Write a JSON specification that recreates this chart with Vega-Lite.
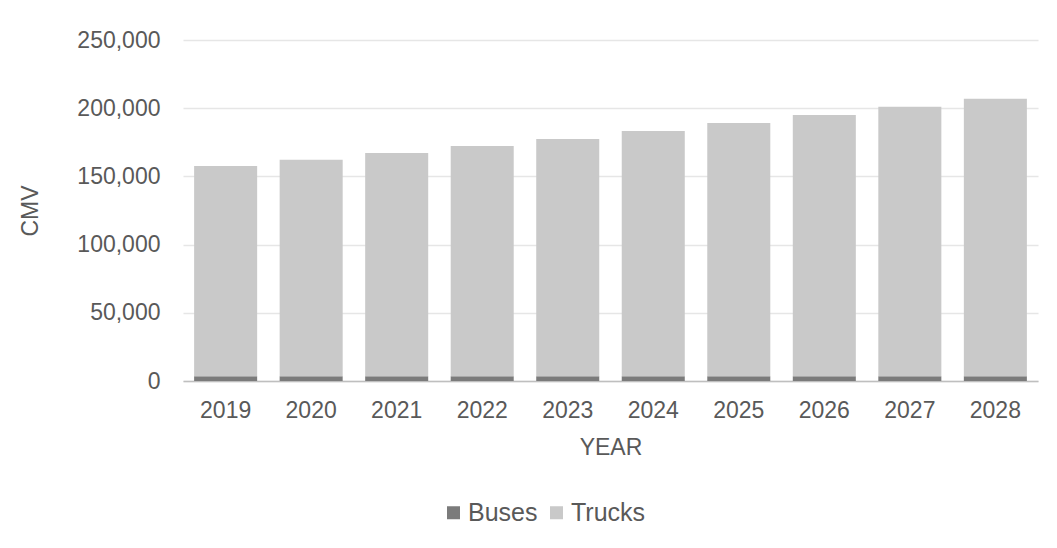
{
  "$schema": "https://vega.github.io/schema/vega-lite/v6.json",
  "autosize": {"type": "none"},
  "padding": {"left": 183, "top": 40, "right": 19, "bottom": 167},
  "width": 855,
  "height": 341,
  "background": "white",
  "data": {
    "values": [
      {"year": "2019", "type": "Buses", "cmv": 3400},
      {"year": "2019", "type": "Trucks", "cmv": 154200},
      {"year": "2020", "type": "Buses", "cmv": 3400},
      {"year": "2020", "type": "Trucks", "cmv": 158800},
      {"year": "2021", "type": "Buses", "cmv": 3400},
      {"year": "2021", "type": "Trucks", "cmv": 163800},
      {"year": "2022", "type": "Buses", "cmv": 3400},
      {"year": "2022", "type": "Trucks", "cmv": 168900},
      {"year": "2023", "type": "Buses", "cmv": 3400},
      {"year": "2023", "type": "Trucks", "cmv": 174100},
      {"year": "2024", "type": "Buses", "cmv": 3400},
      {"year": "2024", "type": "Trucks", "cmv": 179800},
      {"year": "2025", "type": "Buses", "cmv": 3400},
      {"year": "2025", "type": "Trucks", "cmv": 185700},
      {"year": "2026", "type": "Buses", "cmv": 3400},
      {"year": "2026", "type": "Trucks", "cmv": 191600},
      {"year": "2027", "type": "Buses", "cmv": 3400},
      {"year": "2027", "type": "Trucks", "cmv": 197600},
      {"year": "2028", "type": "Buses", "cmv": 3400},
      {"year": "2028", "type": "Trucks", "cmv": 203500}
    ]
  },
  "mark": {"type": "bar"},
  "encoding": {
    "x": {
      "field": "year", "type": "ordinal", "title": "YEAR",
      "scale": {"paddingInner": 0.263, "paddingOuter": 0.13},
      "axis": {"labelAngle": 0, "ticks": false, "labelPadding": 18, "titlePadding": 14,
               "domainColor": "#bfbfbf", "domainWidth": 1.5}
    },
    "y": {
      "field": "cmv", "type": "quantitative", "title": "CMV", "stack": "zero",
      "scale": {"domain": [0, 250000]},
      "axis": {"values": [0, 50000, 100000, 150000, 200000, 250000], "format": ",d",
               "ticks": false, "labelPadding": 23, "titlePadding": 34, "domain": false,
               "gridColor": "#e6e6e6", "gridWidth": 1.3}
    },
    "color": {
      "field": "type", "type": "nominal", "title": null,
      "scale": {"domain": ["Buses", "Trucks"], "range": ["#7b7b7b", "#c9c9c9"]},
      "legend": {"orient": "none", "direction": "horizontal", "legendX": 258, "legendY": 460,
                 "symbolType": "square", "symbolSize": 169, "symbolStrokeWidth": 0,
                 "labelFontSize": 25, "labelColor": "#595959", "labelOffset": 2,
                 "columnPadding": 6, "labelFont": "Liberation Sans"}
    },
    "order": {"field": "type", "sort": "ascending"}
  },
  "config": {
    "view": {"stroke": null},
    "font": "Liberation Sans",
    "axis": {"labelFont": "Liberation Sans", "titleFont": "Liberation Sans",
             "labelFontSize": 23, "titleFontSize": 23, "labelColor": "#595959",
             "titleColor": "#595959", "titleFontWeight": "normal"}
  }
}
